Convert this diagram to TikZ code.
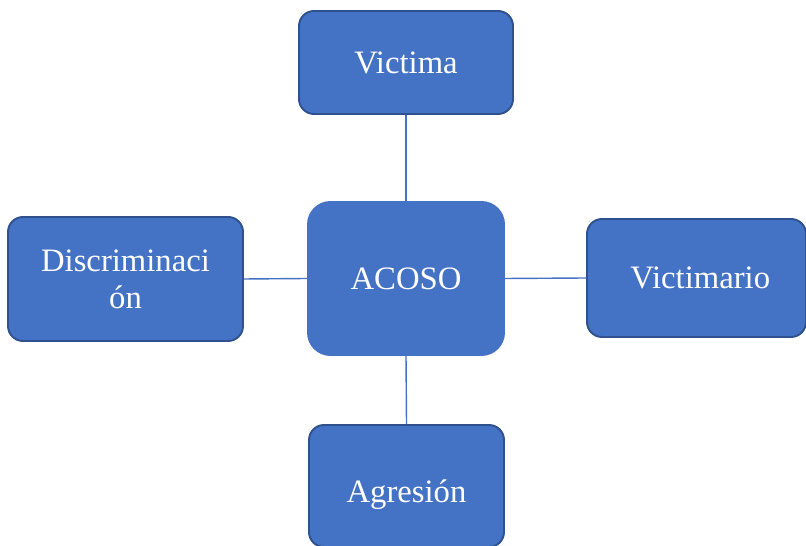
\documentclass[tikz,border=0pt]{standalone}
\usepackage{fontspec}
\setmainfont{Liberation Serif}
\usepackage{tikz}
\definecolor{boxblue}{HTML}{4472C4}
\definecolor{boxline}{HTML}{2F528F}

\begin{document}
\begin{tikzpicture}[
	caja/.style={fill=boxblue, draw=boxline, line width=1.1pt, rounded corners=0.3cm, text=white, font=\fontsize{18.6}{21.2}\selectfont, align=center, inner sep=0pt},
	enlace/.style={draw=boxblue, line width=0.8pt}]
			\useasboundingbox (0,0) rectangle (16.12,10.92);
			\node[caja, minimum width=4.28cm, minimum height=2.06cm] (victima) at (8.12,9.67) {Victima};
			\node[caja, draw=boxblue, rounded corners=0.45cm, minimum width=3.92cm, minimum height=3.06cm] (acoso) at (8.12,5.35) {ACOSO};
			\node[caja, minimum width=4.7cm, minimum height=2.48cm] (discriminacion) at (2.51,5.34) {Discriminaci\\ón};
			\node[caja, minimum width=4.38cm, minimum height=2.36cm] (victimario) at (13.93,5.36) {\hspace{0.15cm}Victimario};
			\node[caja, minimum width=3.9cm, minimum height=2.44cm] (agresion) at (8.13,1.2) {\raisebox{-0.34cm}[0pt][0pt]{Agresión}};
			\draw[enlace] (victima.south) -- (acoso.north);
			\draw[enlace] (discriminacion.east) -- (acoso.west);
			\draw[enlace] (acoso.east) -- (victimario.west);
			\draw[enlace] (acoso.south) -- (agresion.north);
		\end{tikzpicture}
\end{document}
